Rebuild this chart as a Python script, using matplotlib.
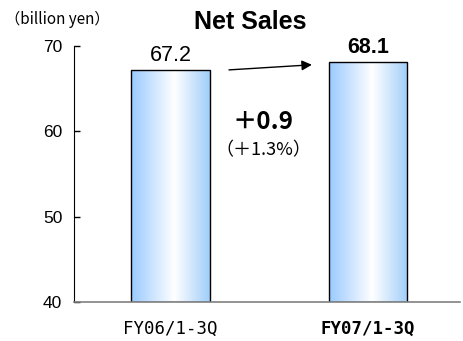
import numpy as np
import matplotlib
matplotlib.use("Agg")
import matplotlib.pyplot as plt
from matplotlib.colors import LinearSegmentedColormap
from matplotlib.patches import Rectangle

categories = ["FY06/1-3Q", "FY07/1-3Q"]
values = [67.2, 68.1]
value_labels = ["67.2", "68.1"]
yticks = [40, 50, 60, 70]
diff_label = "＋0.9"
pct_label = "（＋1.3%）"
base = 40

plt.rcParams['font.family'] = ['Noto Sans CJK JP', 'DejaVu Sans']
SANS = ['Liberation Sans', 'DejaVu Sans']

fig = plt.figure(figsize=(4.64, 3.41), dpi=100)
ax = fig.add_axes([74/464, 1-302/341, (460-74)/464, (302-46)/341])

cmap = LinearSegmentedColormap.from_list(
    "g", [(0.0, "#99CAFF"), (0.55, "#FFFFFF"), (1.0, "#A0CEFA")])
grad = np.linspace(0, 1, 256).reshape(1, -1)
width = 0.4
x = np.arange(len(categories))
bars = ax.bar(x, np.array(values) - base, width=width, bottom=base, facecolor="none",
              edgecolor="black", linewidth=1.0, zorder=3)
for b in bars:
    x0, y0 = b.get_x(), b.get_y()
    w, h = b.get_width(), b.get_height()
    im = ax.imshow(grad, cmap=cmap, aspect="auto",
                   extent=[x0, x0 + w, y0, y0 + h], zorder=2)
    im.set_clip_path(Rectangle((x0, y0), w, h, transform=ax.transData))
ax.set_xlim(-0.489, 1.466)
ax.set_ylim(40, 70)

ax.spines['top'].set_visible(False)
ax.spines['right'].set_visible(False)
ax.spines['left'].set_color("black")
ax.spines['bottom'].set_color("#808080")
ax.spines['bottom'].set_linewidth(1.2)
ax.spines['bottom'].set_zorder(4)

ax.set_yticks(yticks)
ax.set_yticklabels([str(t) for t in yticks], fontsize=12.5, family=SANS)
ax.tick_params(axis='y', direction='in', length=4, width=1, pad=8.5)
ax.set_xticks(x)
ax.set_xticklabels(categories, fontsize=12.5, family=['DejaVu Sans Mono'])
ax.tick_params(axis='x', length=0, pad=13)
ax.get_xticklabels()[1].set_fontweight('bold')

ax.text(x[0], values[0] + 0.5, value_labels[0], ha='center', va='bottom',
        fontsize=15.5, family=SANS)
ax.text(x[1], values[1] + 0.5, value_labels[1], ha='center', va='bottom',
        fontsize=15.5, fontweight='bold', family=SANS)

ax.annotate("", xy=(0.716, 67.8), xytext=(0.296, 67.2),
            arrowprops=dict(arrowstyle="-|>", color="black", lw=1.0,
                            mutation_scale=15, shrinkA=0, shrinkB=0))

ax.text(0.47, 61.1, diff_label, ha='center', va='center', fontsize=17.5, fontweight='bold')
ax.text(0.47, 57.8, pct_label, ha='center', va='center', fontsize=13)

fig.text(5/464, 1-19/341, "（billion yen）", ha='left', va='center', fontsize=11)
fig.text(250/464, 1-22/341, "Net Sales", ha='center', va='center', fontsize=18,
         fontweight='bold', family=SANS)

fig.savefig("out.png", dpi=100)
